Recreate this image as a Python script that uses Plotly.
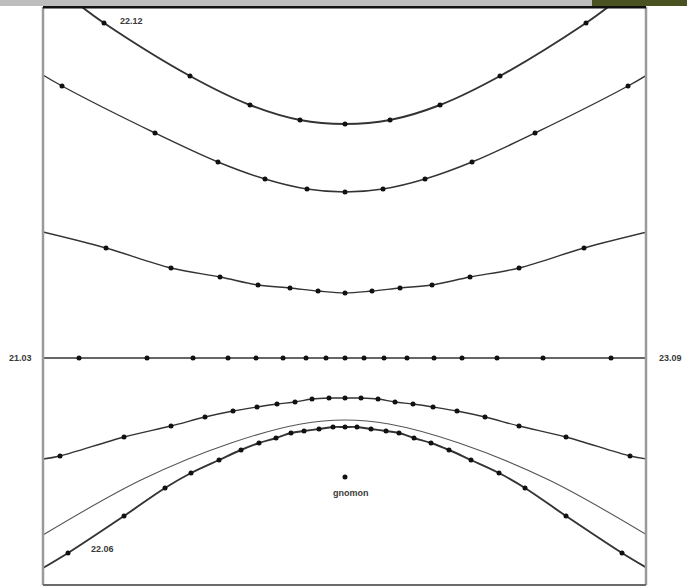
import plotly.graph_objects as go

# ---- data (diagram units, origin at gnomon foot line / equinox line centre) ----
# 22.12 (winter solstice) declination curve
dec1_x = [-241, -155, -95, -45, 0, 45, 95, 155, 241]
dec1_y = [335, 282, 253, 238, 234, 238, 253, 282, 335]
dec1_ends_x = [-263, 263]
dec1_ends_y = [351, 351]

# second curve
dec2_x = [-283, -190, -127, -80, -38, 0, 38, 80, 127, 190, 283]
dec2_y = [272, 225, 196, 179, 169, 166, 169, 179, 196, 225, 272]
dec2_ends_x = [-302, 302]
dec2_ends_y = [283, 283]

# third curve
dec3_x = [-239, -174, -125, -87, -55, -27, 0, 27, 55, 87, 125, 174, 239]
dec3_y = [110, 90, 81, 73, 70, 67, 65, 67, 70, 73, 81, 90, 110]
dec3_ends_x = [-302, 302]
dec3_ends_y = [126, 126]

# equinox line 21.03 / 23.09
equ_x = [-266, -198, -152, -117, -89, -62, -39, -19, 0, 19, 39, 62, 89, 117, 152, 198, 266]
equ_y = [0] * len(equ_x)
equ_ends_x = [-302, 302]
equ_ends_y = [0, 0]

# fifth curve
dec5_x = [-285, -221, -174, -140, -112, -88, -68, -50, -33, -16, 0, 16, 33, 50, 68, 88, 112, 140, 174, 221, 285]
dec5_y = [-98, -79, -68, -59, -53, -49, -46, -44, -41, -40, -40, -40, -41, -44, -46, -49, -53, -59, -68, -79, -98]
dec5_ends_x = [-302, 302]
dec5_ends_y = [-101, -101]

# thin curve (no dots)
thin_x = [-302, -204, -114, -44, 0, 44, 114, 204, 302]
thin_y = [-177, -122, -85, -66, -62, -66, -85, -122, -177]

# 22.06 (summer solstice) curve
dec7_x = [-277, -221, -180, -154, -126, -104, -86, -69, -54, -41, -26, -12, 0,
          12, 26, 41, 54, 69, 86, 104, 126, 154, 180, 221, 277]
dec7_y = [-195, -158, -130, -115, -102, -92, -85, -80, -75, -73, -71, -69, -69,
          -69, -71, -73, -75, -80, -85, -92, -102, -115, -130, -158, -195]
dec7_ends_x = [-302, 302]
dec7_ends_y = [-210, -210]

gnomon_x = [0]
gnomon_y = [-119]

# labels inside the dial (data coordinates)
in_labels = ["22.12", "22.06", "gnomon"]
in_label_x = [-214, -243, 6]
in_label_y = [337, -191, -135]
# labels beside the dial (left / right of the frame, equinox line)
side_labels = ["21.03", "23.09"]
side_label_px = [-0.038, 1.041]
side_label_y = [0, 0]

X_RANGE = [-302, 301]
Y_RANGE = [-227, 351]

fig = go.Figure()

LINE_C = "#333333"
FONT = dict(family="Liberation Sans, Arial, sans-serif", size=9, color="#3a3a3a")


def add_curve(xd, yd, ex, ey, width, shape="spline"):
    lx = [ex[0]] + xd + [ex[1]]
    ly = [ey[0]] + yd + [ey[1]]
    fig.add_trace(go.Scatter(x=lx, y=ly, mode="lines",
                             line=dict(color=LINE_C, width=width, shape=shape, smoothing=1.0),
                             hoverinfo="skip", showlegend=False))
    fig.add_trace(go.Scatter(x=xd, y=yd, mode="markers",
                             marker=dict(color="#111111", size=5),
                             showlegend=False))


add_curve(dec1_x, dec1_y, dec1_ends_x, dec1_ends_y, 1.9)
add_curve(dec2_x, dec2_y, dec2_ends_x, dec2_ends_y, 1.4)
add_curve(dec3_x, dec3_y, dec3_ends_x, dec3_ends_y, 1.4)
add_curve(equ_x, equ_y, equ_ends_x, equ_ends_y, 1.6, shape="linear")
add_curve(dec5_x, dec5_y, dec5_ends_x, dec5_ends_y, 1.4)
fig.add_trace(go.Scatter(x=thin_x, y=thin_y, mode="lines",
                         line=dict(color="#555555", width=1.1, shape="spline", smoothing=1.0),
                         hoverinfo="skip", showlegend=False))
add_curve(dec7_x, dec7_y, dec7_ends_x, dec7_ends_y, 1.9)

fig.add_trace(go.Scatter(x=gnomon_x, y=gnomon_y, mode="markers",
                         marker=dict(color="#111111", size=5), showlegend=False))

for t, lx, ly in zip(in_labels, in_label_x, in_label_y):
    fig.add_annotation(x=lx, y=ly, xref="x", yref="y", text="<b>%s</b>" % t,
                       showarrow=False, font=FONT, xanchor="center", yanchor="middle")
for t, lx, ly in zip(side_labels, side_label_px, side_label_y):
    fig.add_annotation(x=lx, y=ly, xref="paper", yref="y", text="<b>%s</b>" % t,
                       showarrow=False, font=FONT, xanchor="center", yanchor="middle")

shapes = [
    # plot frame
    dict(type="line", xref="paper", yref="paper", x0=0, x1=0, y0=0, y1=1,
         line=dict(color="#9a9a9a", width=2.5)),
    dict(type="line", xref="paper", yref="paper", x0=1, x1=1, y0=0, y1=1,
         line=dict(color="#9a9a9a", width=2.5)),
    dict(type="line", xref="paper", yref="paper", x0=0, x1=1, y0=0, y1=0,
         line=dict(color="#6a6a6a", width=2)),
    dict(type="line", xref="paper", yref="paper", x0=0, x1=1, y0=1, y1=1,
         line=dict(color="#111111", width=3)),
    # top strip (screenshot edge)
    dict(type="rect", xref="paper", yref="paper", x0=-43 / 603, x1=549 / 603,
         y0=1 + 1 / 578, y1=1 + 8 / 578, line=dict(width=0), fillcolor="#bdbdbd"),
    dict(type="rect", xref="paper", yref="paper", x0=549 / 603, x1=644 / 603,
         y0=1 + 1 / 578, y1=1 + 8 / 578, line=dict(width=0), fillcolor="#4b5222"),
]

fig.update_layout(
    width=687, height=587, autosize=False,
    margin=dict(l=43, r=41, t=7, b=2),
    paper_bgcolor="white", plot_bgcolor="white",
    showlegend=False,
    shapes=shapes,
    xaxis=dict(range=X_RANGE, visible=False, fixedrange=True),
    yaxis=dict(range=Y_RANGE, visible=False, fixedrange=True),
)

fig.write_html("out.html", config={"displayModeBar": False},
               post_script="document.body.style.margin='0';document.body.style.overflow='hidden';")
